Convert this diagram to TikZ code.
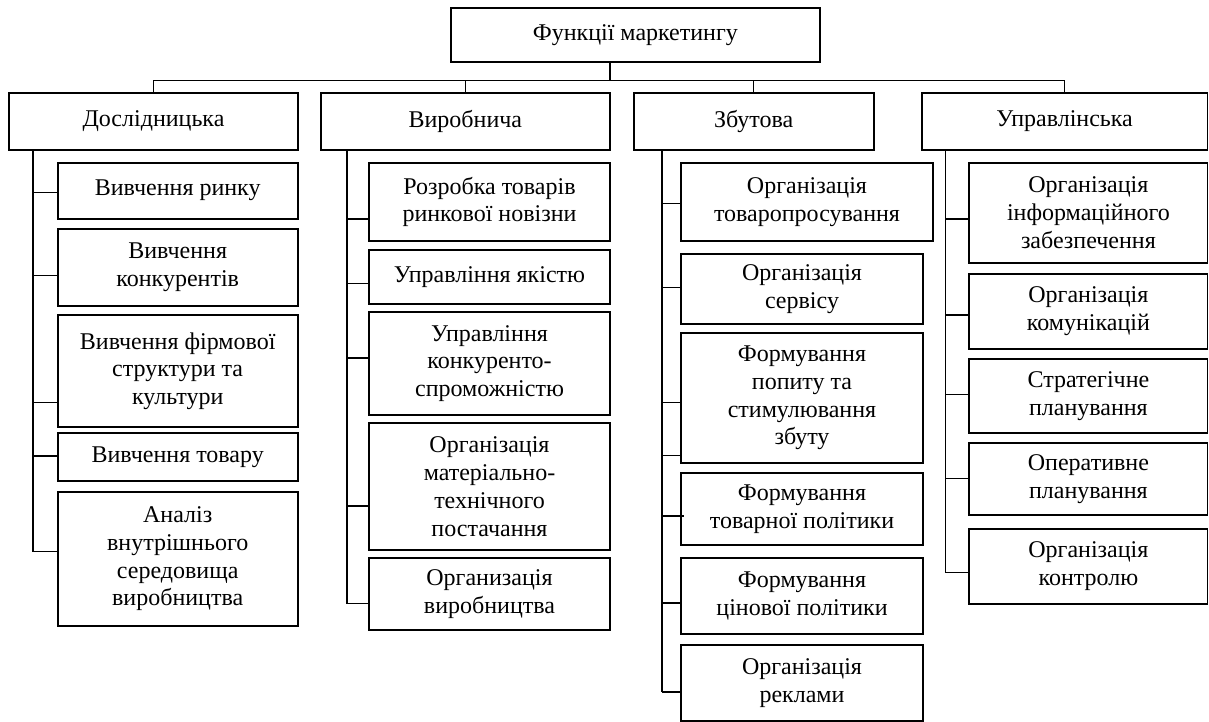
\documentclass[tikz,border=0pt]{standalone}
\usepackage{fontspec}
\setmainfont{Liberation Serif}
\newcommand\mybox[6]{\node[box, minimum width={(#3)-(#2)}, minimum height={(#5)-(#4)}] (#1) at ({((#2)+(#3))/2},{((#4)+(#5))/2}) {#6};}
\newcommand\myconn[3]{\draw[conn] (#1 |- 0,#3) -- (#2.west |- 0,#3);}
\begin{document}
\begin{tikzpicture}[x=1pt,y=-1pt,
  box/.style={draw, line width=1.9pt, rectangle, inner sep=0pt, align=center,
    font=\fontsize{24}{27.7}\selectfont},
  conn/.style={line width=1.5pt},
  spine/.style={line width=1.8pt}]
\useasboundingbox (0,0) rectangle (1209,722);
% top
\mybox{root}{450.7}{820}{8}{62.3}{Функції маркетингу}
\mybox{d}{9.3}{297.7}{93}{150}{Дослідницька}
\mybox{v}{321}{609.7}{93}{150}{Виробнича}
\mybox{z}{633.7}{873.7}{93}{150}{Збутова}
\mybox{u}{921.7}{1207.5}{93}{150}{Управлінська}
\coordinate (bus) at (609.7,80.5);
\draw[spine] (root.south -| bus) -- (bus);
\draw[conn] (d.north) -- (d.north |- bus) -- (u.north |- bus) -- (u.north);
\draw[conn] (v.north |- bus) -- (v.north);
\draw[conn] (z.north |- bus) -- (z.north);
% column 1
\mybox{d1}{57.7}{297.7}{162.7}{218.7}{Вивчення ринку}
\mybox{d2}{57.7}{297.7}{229}{305.7}{Вивчення\\конкурентів}
\mybox{d3}{57.7}{297.7}{315.3}{426.7}{Вивчення фірмової\\структури та\\культури}
\mybox{d4}{57.7}{297.7}{433.3}{481}{Вивчення товару}
\mybox{d5}{57.7}{297.7}{491.7}{626}{Аналіз\\внутрішнього\\середовища\\виробництва}
\coordinate (sd) at (33.3,0);
\draw[spine] (d.south -| sd) -- (sd |- 0,551.7);
\myconn{sd}{d1}{192.3}
\myconn{sd}{d2}{275.7}
\myconn{sd}{d3}{402.7}
\myconn{sd}{d4}{456}
\myconn{sd}{d5}{551.7}
% column 2
\mybox{v1}{369.3}{609.7}{162.7}{241.3}{Розробка товарів\\ринкової новізни}
\mybox{v2}{369.3}{609.7}{249.7}{303.7}{Управління якістю}
\mybox{v3}{369.3}{609.7}{311.7}{415.3}{Управління\\конкуренто-\\спроможністю}
\mybox{v4}{369.3}{609.7}{423.3}{550}{Організація\\матеріально-\\технічного\\постачання}
\mybox{v5}{369.3}{609.7}{557.7}{630.3}{Организація\\виробництва}
\coordinate (sv) at (346.7,0);
\draw[spine] (v.south -| sv) -- (sv |- 0,603.7);
\myconn{sv}{v1}{219}
\myconn{sv}{v2}{283.3}
\myconn{sv}{v3}{358}
\myconn{sv}{v4}{506}
\myconn{sv}{v5}{603.7}
% column 3
\mybox{z1}{681.3}{932.7}{162.7}{241.3}{Організація\\товаропросування}
\mybox{z2}{681.3}{922.7}{254}{324.3}{Організація\\сервісу}
\mybox{z3}{681.3}{922.7}{333.3}{462.7}{Формування\\попиту та\\стимулювання\\збуту}
\mybox{z4}{681.3}{922.7}{472.7}{545}{Формування\\товарної політики}
\mybox{z5}{681.3}{922.7}{558.3}{633.7}{Формування\\цінової політики}
\mybox{z6}{681.3}{922.7}{645.3}{721}{Організація\\реклами}
\coordinate (sz) at (662,0);
\draw[spine] (z.south -| sz) -- (sz |- 0,692);
\myconn{sz}{z1}{203.3}
\myconn{sz}{z2}{287.3}
\myconn{sz}{z3}{402.7}
\myconn{sz}{z3}{455.3}
\draw[conn] (sz |- 0,516) -- ([xshift=3.4pt]z4.west |- 0,516);
\myconn{sz}{z5}{603}
\myconn{sz}{z6}{692}
% column 4
\mybox{u1}{969.3}{1207.5}{162.7}{262.7}{Організація\\інформаційного\\забезпечення}
\mybox{u2}{969.3}{1207.5}{274}{348.7}{Організація\\комунікацій}
\mybox{u3}{969.3}{1207.5}{359.3}{432.7}{Стратегічне\\планування}
\mybox{u4}{969.3}{1207.5}{442.7}{515.3}{Оперативне\\планування}
\mybox{u5}{969.3}{1207.5}{528.7}{603.7}{Організація\\контролю}
\coordinate (su) at (945.5,0);
\draw[spine] (u.south -| su) -- (su |- 0,572.7);
\myconn{su}{u1}{219}
\myconn{su}{u2}{315}
\myconn{su}{u3}{394.3}
\myconn{su}{u4}{478.3}
\myconn{su}{u5}{572.7}
\end{tikzpicture}
\end{document}
